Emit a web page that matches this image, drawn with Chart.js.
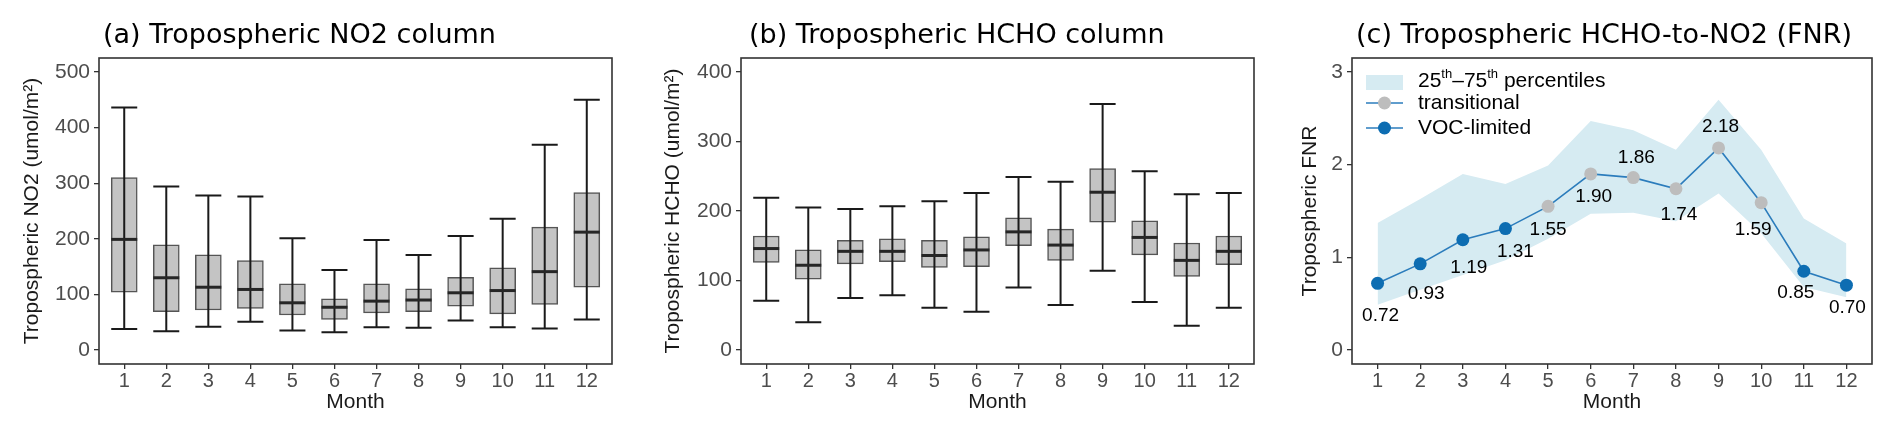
<!DOCTYPE html>
<html>
<head>
<meta charset="utf-8">
<script src="https://cdn.jsdelivr.net/npm/chart.js@4.4.1/dist/chart.umd.min.js"></script>
<style>
  html, body { margin: 0; padding: 0; background: #fff; }
  body { width: 1892px; height: 434px; position: relative; overflow: hidden; }
  .panel { position: absolute; top: 0; height: 434px; }
</style>
</head>
<body>
<div class="panel" style="left:0;width:630px"><canvas id="chartNO2"></canvas></div>
<div class="panel" style="left:630px;width:630px"><canvas id="chartHCHO"></canvas></div>
<div class="panel" style="left:1260px;width:632px"><canvas id="chartFNR"></canvas></div>
<script>
// months on the x axis
const months = [1, 2, 3, 4, 5, 6, 7, 8, 9, 10, 11, 12];

// (a) tropospheric NO2 column, umol/m2
const no2Low  = [38, 34, 42, 51, 35, 32, 41, 40, 53, 41, 39, 55];
const no2Q1   = [104, 69, 72, 75, 63, 55, 67, 69, 79, 65, 82, 113];
const no2Med  = [199, 130, 113, 109, 85, 77, 88, 90, 103, 107, 141, 212];
const no2Q3   = [310, 189, 171, 161, 119, 92, 119, 110, 131, 148, 221, 283];
const no2High = [436, 294, 278, 276, 201, 144, 198, 171, 205, 236, 369, 450];
const no2Ticks = [0, 100, 200, 300, 400, 500];

// (b) tropospheric HCHO column, umol/m2
const hchoLow  = [71, 40, 75, 79, 61, 55, 90, 65, 114, 69, 35, 61];
const hchoQ1   = [126, 102, 124, 127, 119, 120, 150, 129, 184, 137, 106, 123];
const hchoMed  = [146, 122, 142, 142, 136, 144, 170, 151, 227, 162, 129, 142];
const hchoQ3   = [164, 144, 158, 160, 158, 163, 190, 174, 261, 186, 154, 164];
const hchoHigh = [219, 205, 203, 207, 214, 226, 249, 242, 354, 257, 224, 226];
const hchoTicks = [0, 100, 200, 300, 400];

// (c) HCHO-to-NO2 ratio
const fnrMedian = [0.72, 0.93, 1.19, 1.31, 1.55, 1.90, 1.86, 1.74, 2.18, 1.59, 0.85, 0.70];
const fnrP25    = [0.49, 0.65, 0.81, 0.97, 1.20, 1.47, 1.48, 1.39, 1.69, 1.26, 0.68, 0.57];
const fnrP75    = [1.37, 1.63, 1.90, 1.79, 1.99, 2.47, 2.37, 2.16, 2.70, 2.16, 1.42, 1.15];
const fnrRegime = ['VOC-limited', 'VOC-limited', 'VOC-limited', 'VOC-limited',
                   'transitional', 'transitional', 'transitional', 'transitional',
                   'transitional', 'transitional', 'VOC-limited', 'VOC-limited'];
const fnrTicks = [0, 1, 2, 3];

// label nudges for the ratio values (px), like ggrepel placed them
const labelNudge = [[3, 32], [6, 30], [6, 28], [10, 23], [0, 23], [3, 23],
                    [3, -20], [3, 26], [2, -21], [-8, 27], [-8, 21], [1, 23]];

const TICK_FONT = { family: '"Liberation Sans", Arial, sans-serif', size: 21 };
const AXIS_FONT = { family: '"Liberation Sans", Arial, sans-serif', size: 21 };
const TITLE_FONT = '27px "DejaVu Sans", sans-serif';
const regimeColor = { 'transitional': '#bdbdbd', 'VOC-limited': '#0d6db2' };

// title + panel frame
const panelDecor = {
    id: 'panelDecor',
    afterDraw(chart, args, opts) {
        const { ctx, chartArea: a } = chart;
        ctx.save();
        ctx.strokeStyle = '#333';
        ctx.lineWidth = 1.6;
        ctx.strokeRect(a.left, a.top, a.right - a.left, a.bottom - a.top);
        ctx.fillStyle = '#000';
        ctx.font = TITLE_FONT;
        ctx.textBaseline = 'alphabetic';
        ctx.textAlign = 'left';
        ctx.fillText(opts.text, opts.x, 43);
        ctx.restore();
    }
};

// whiskers and medians drawn on the library's scales
const boxExtras = {
    id: 'boxExtras',
    afterDatasetsDraw(chart, args, opts) {
        const { ctx, scales: { x, y } } = chart;
        const bars = chart.getDatasetMeta(0).data;
        ctx.save();
        months.forEach((m, i) => {
            const px = x.getPixelForValue(m);
            const half = bars[i].width / 2;
            const yLo = y.getPixelForValue(opts.low[i]);
            const yHi = y.getPixelForValue(opts.high[i]);
            ctx.strokeStyle = '#1a1a1a';
            ctx.lineWidth = 2;
            ctx.beginPath();
            ctx.moveTo(px, yLo); ctx.lineTo(px, yHi);
            ctx.moveTo(px - half, yLo); ctx.lineTo(px + half, yLo);
            ctx.moveTo(px - half, yHi); ctx.lineTo(px + half, yHi);
            ctx.stroke();
            const yMed = y.getPixelForValue(opts.med[i]);
            ctx.strokeStyle = '#262626';
            ctx.lineWidth = 3;
            ctx.beginPath();
            ctx.moveTo(px - half, yMed); ctx.lineTo(px + half, yMed);
            ctx.stroke();
        });
        ctx.restore();
    }
};

function xScale(axisWidthPad) {
    return {
        type: 'linear', min: 0.4, max: 12.6, bounds: 'data', offset: false,
        afterBuildTicks: s => { s.ticks = months.map(v => ({ value: v })); },
        afterFit: s => { s.height = 70; },
        ticks: { color: '#4d4d4d', font: { ...TICK_FONT, size: 20 }, padding: 0, callback: v => String(v), maxRotation: 0, autoSkip: false },
        grid: { display: true, drawOnChartArea: false, drawTicks: true, tickLength: 5, color: '#333', lineWidth: 1.3, offset: false },
        border: { display: false },
        title: { display: true, text: 'Month', color: '#1a1a1a', font: AXIS_FONT, padding: { top: 0, bottom: 19 } }
    };
}

function yScale(min, max, tickVals, width, label, titlePad) {
    return {
        type: 'linear', min: min, max: max, bounds: 'data',
        afterBuildTicks: s => { s.ticks = tickVals.map(v => ({ value: v })); },
        afterFit: s => { s.width = width; },
        ticks: { color: '#4d4d4d', font: TICK_FONT, padding: 4 },
        grid: { display: true, drawOnChartArea: false, drawTicks: true, tickLength: 5, color: '#333', lineWidth: 1.3 },
        border: { display: false },
        title: { display: true, text: label, color: '#1a1a1a', font: AXIS_FONT, padding: { top: titlePad, bottom: 0 } }
    };
}

function boxChart(id, q1, q3, low, med, high, yMin, yMax, ticks, yWidth, padRight, label, titlePad, title, titleX) {
    return new Chart(document.getElementById(id), {
        type: 'bar',
        data: {
            datasets: [{
                data: months.map((m, i) => ({ x: m, y: [q1[i], q3[i]] })),
                backgroundColor: '#c4c4c4',
                borderColor: '#555',
                borderWidth: 1.5,
                borderSkipped: false,
                barThickness: 26
            }]
        },
        options: {
            responsive: true, maintainAspectRatio: false, animation: false,
            layout: { padding: { top: 58, right: padRight, bottom: 0, left: 0 } },
            plugins: {
                legend: { display: false }, tooltip: { enabled: false },
                boxExtras: { low: low, med: med, high: high },
                panelDecor: { text: title, x: titleX }
            },
            scales: {
                x: xScale(),
                y: yScale(yMin, yMax, ticks, yWidth, label, titlePad)
            }
        },
        plugins: [boxExtras, panelDecor]
    });
}

boxChart('chartNO2', no2Q1, no2Q3, no2Low, no2Med, no2High, -25, 525, no2Ticks, 99, 18,
    'Tropospheric NO2 (umol/m\u00B2)', 20, '(a) Tropospheric NO2 column', 103);
boxChart('chartHCHO', hchoQ1, hchoQ3, hchoLow, hchoMed, hchoHigh, -20, 420, hchoTicks, 111, 6,
    'Tropospheric HCHO (umol/m\u00B2)', 31, '(b) Tropospheric HCHO column', 119);

// value labels + legend for the ratio panel
const fnrDecor = {
    id: 'fnrDecor',
    afterDatasetsDraw(chart) {
        const { ctx, chartArea: a } = chart;
        const pts = chart.getDatasetMeta(0).data;
        ctx.save();
        ctx.fillStyle = '#000';
        ctx.font = '19px "Liberation Sans", Arial, sans-serif';
        ctx.textAlign = 'center';
        ctx.textBaseline = 'middle';
        fnrMedian.forEach((v, i) => {
            ctx.fillText(v.toFixed(2), pts[i].x + labelNudge[i][0], pts[i].y + labelNudge[i][1]);
        });

        // legend
        const lx = a.left + 14, tx = a.left + 66;
        ctx.fillStyle = '#d6ebf2';
        ctx.fillRect(lx, a.top + 17, 37, 15);
        [['transitional', a.top + 45], ['VOC-limited', a.top + 70]].forEach(([name, cy]) => {
            ctx.strokeStyle = '#2b7cbc';
            ctx.lineWidth = 1.6;
            ctx.beginPath(); ctx.moveTo(lx, cy); ctx.lineTo(lx + 37, cy); ctx.stroke();
            ctx.fillStyle = regimeColor[name];
            ctx.beginPath(); ctx.arc(lx + 18.5, cy, 6.5, 0, Math.PI * 2); ctx.fill();
        });
        ctx.fillStyle = '#000';
        ctx.textAlign = 'left';
        const big = '21px "Liberation Sans", Arial, sans-serif';
        const sup = '13px "Liberation Sans", Arial, sans-serif';
        let x = tx, y = a.top + 23;
        [['25', big, 0], ['th', sup, -7], ['\u201375', big, 0], ['th', sup, -7], [' percentiles', big, 0]].forEach(([t, f, dy]) => {
            ctx.font = f;
            ctx.fillText(t, x, y + dy);
            x += ctx.measureText(t).width;
        });
        ctx.font = big;
        ctx.fillText('transitional', tx, a.top + 45);
        ctx.fillText('VOC-limited', tx, a.top + 70);
        ctx.restore();
    }
};

new Chart(document.getElementById('chartFNR'), {
    type: 'line',
    data: {
        datasets: [
            {
                data: months.map((m, i) => ({ x: m, y: fnrMedian[i] })),
                borderColor: '#2b7cbc',
                borderWidth: 1.6,
                pointRadius: 6.5,
                pointBorderWidth: 0,
                pointBackgroundColor: fnrRegime.map(r => regimeColor[r]),
                fill: false
            },
            {
                data: months.map((m, i) => ({ x: m, y: fnrP75[i] })),
                borderWidth: 0, pointRadius: 0,
                backgroundColor: '#d6ebf2',
                fill: '+1'
            },
            {
                data: months.map((m, i) => ({ x: m, y: fnrP25[i] })),
                borderWidth: 0, pointRadius: 0,
                fill: false
            }
        ]
    },
    options: {
        responsive: true, maintainAspectRatio: false, animation: false,
        layout: { padding: { top: 58, right: 20, bottom: 0, left: 0 } },
        plugins: {
            legend: { display: false }, tooltip: { enabled: false },
            panelDecor: { text: '(c) Tropospheric HCHO-to-NO2 (FNR)', x: 96 }
        },
        scales: {
            x: xScale(),
            y: yScale(-0.15, 3.15, fnrTicks, 92, 'Tropospheric FNR', 38)
        }
    },
    plugins: [fnrDecor, panelDecor]
});
</script>
</body>
</html>
